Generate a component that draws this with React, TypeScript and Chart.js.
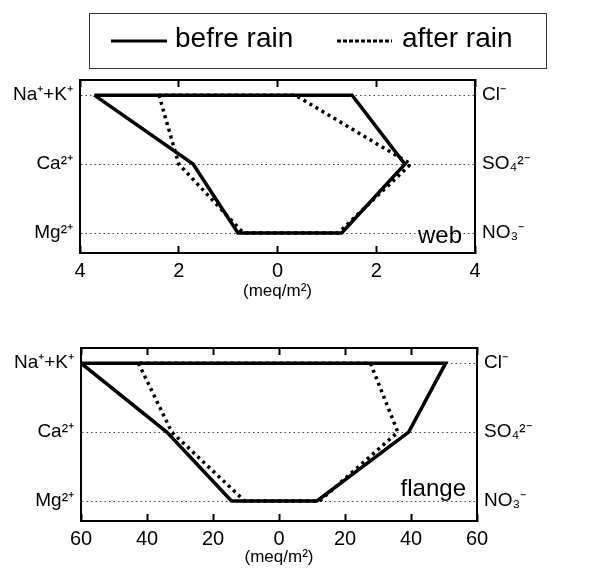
import React, { useEffect, useRef } from 'react';
import { Chart, registerables } from 'chart.js';
Chart.register(...registerables);

const cationLabels = ['Na⁺+K⁺', 'Ca²⁺', 'Mg²⁺'];
const anionLabels = ['Cl⁻', 'SO₄²⁻', 'NO₃⁻'];
const seriesNames = ['befre rain', 'after rain'];

const webBeforeCations = [3.71, 1.71, 0.8];
const webBeforeAnions = [1.51, 2.58, 1.3];
const webAfterCations = [2.4, 2.0, 0.69];
const webAfterAnions = [0.36, 2.7, 1.23];

const flangeBeforeCations = [60, 34, 14.4];
const flangeBeforeAnions = [50.5, 39.3, 11.5];
const flangeAfterCations = [42.6, 32.5, 10.4];
const flangeAfterAnions = [27.7, 36, 12.3];

const webRange = [-4, 4];
const webStep = 2;
const flangeRange = [-60, 60];
const flangeStep = 20;

const FONT = '"Liberation Sans", Arial, Helvetica, sans-serif';

function polygon(cat: number[], an: number[]) {
  const left = cat.map((v, i) => ({ x: -v, y: i }));
  const right = an.map((v, i) => ({ x: v, y: i })).reverse();
  return [...left, ...right, { x: -cat[0], y: 0 }];
}

const panelLabel = {
  id: 'panelLabel',
  afterDatasetsDraw(chart: any, _args: any, opts: any) {
    const { ctx, chartArea, scales } = chart;
    ctx.save();
    ctx.font = `${opts.size}px ${FONT}`;
    ctx.textAlign = 'right';
    ctx.textBaseline = 'alphabetic';
    ctx.fillStyle = '#000';
    const y = scales.y.getPixelForValue(2) + opts.dy;
    ctx.fillText(opts.text, chartArea.right - opts.dx, y);
    ctx.restore();
  },
};

function makeConfig(p: any) {
  const xTickCommon = {
    min: p.range[0],
    max: p.range[1],
  };
  return {
    type: 'scatter',
    data: {
      datasets: [
        {
          label: seriesNames[0],
          data: polygon(p.beforeC, p.beforeA),
          showLine: true,
          borderColor: '#000',
          borderWidth: 3.5,
          pointRadius: 0,
          fill: false,
          borderJoinStyle: 'miter',
        },
        {
          label: seriesNames[1],
          data: polygon(p.afterC, p.afterA),
          showLine: true,
          borderColor: '#000',
          borderWidth: 3.5,
          borderDash: [3, 4],
          pointRadius: 0,
          fill: false,
          borderJoinStyle: 'miter',
        },
      ],
    },
    options: {
      responsive: false,
      animation: false,
      devicePixelRatio: 1,
      layout: { padding: { top: p.padTop, left: 0, right: 0, bottom: 0 } },
      plugins: {
        legend: { display: false },
        tooltip: { enabled: false },
        panelLabel: { text: p.label, size: 24, dx: p.labelDx, dy: p.labelDy },
      },
      scales: {
        x: {
          type: 'linear',
          position: 'bottom',
          ...xTickCommon,
          afterFit: (s: any) => { s.height = p.height - p.chartBottom; },
          ticks: {
            stepSize: p.step,
            callback: (v: any) => String(Math.abs(v)),
            font: { family: FONT, size: 20 },
            color: '#000',
            padding: 13,
            maxRotation: 0,
          },
          grid: {
            drawOnChartArea: false,
            drawTicks: true,
            tickLength: -7,
            tickWidth: 2,
            tickColor: '#000',
            color: '#000',
          },
          border: { display: true, color: '#000', width: 2 },
          title: {
            display: true,
            text: '(meq/m²)',
            font: { family: FONT, size: 17 },
            color: '#000',
            padding: { top: 0, bottom: p.titlePad },
          },
        },
        xTop: {
          type: 'linear',
          position: 'top',
          ...xTickCommon,
          afterFit: (s: any) => { s.height = 0; },
          ticks: { display: false, stepSize: p.step },
          grid: {
            drawOnChartArea: false,
            drawTicks: true,
            tickLength: -7,
            tickWidth: 2,
            tickColor: '#000',
            color: '#000',
          },
          border: { display: true, color: '#000', width: 2 },
        },
        y: {
          type: 'linear',
          position: 'left',
          reverse: true,
          min: -0.22,
          max: 2.29,
          afterBuildTicks: (s: any) => { s.ticks = [0, 1, 2].map((v) => ({ value: v })); },
          afterFit: (s: any) => { s.width = p.leftW; },
          ticks: {
            callback: (_v: any, i: number) => cationLabels[i],
            font: { family: FONT, size: 19 },
            color: '#000',
            padding: 7,
          },
          grid: {
            drawTicks: false,
            color: '#444',
            lineWidth: 1,
          },
          border: { display: true, color: '#000', width: 2, dash: [1.5, 3] },
        },
        yRight: {
          type: 'linear',
          position: 'right',
          reverse: true,
          min: -0.22,
          max: 2.29,
          afterBuildTicks: (s: any) => { s.ticks = [0, 1, 2].map((v) => ({ value: v })); },
          afterFit: (s: any) => { s.width = p.rightW; },
          ticks: {
            callback: (_v: any, i: number) => anionLabels[i],
            font: { family: FONT, size: 19 },
            color: '#000',
            padding: 7,
          },
          grid: { display: false, drawTicks: false },
          border: { display: true, color: '#000', width: 2 },
        },
      },
    },
    plugins: [panelLabel],
  };
}

function Panel(props: any) {
  const ref = useRef<HTMLCanvasElement>(null);
  useEffect(() => {
    const chart = new Chart(ref.current as any, makeConfig(props.cfg) as any);
    return () => chart.destroy();
  }, []);
  return (
    <canvas
      ref={ref}
      width={604}
      height={props.cfg.height}
      style={{ position: 'absolute', left: 0, top: props.top, width: 604, height: props.cfg.height }}
    />
  );
}

export default function App() {
  const webCfg = {
    beforeC: webBeforeCations, beforeA: webBeforeAnions,
    afterC: webAfterCations, afterA: webAfterAnions,
    range: webRange, step: webStep,
    height: 305, padTop: 80, chartBottom: 253,
    leftW: 80, rightW: 129, titlePad: 3,
    label: 'web', labelDx: 13, labelDy: 10,
  };
  const flangeCfg = {
    beforeC: flangeBeforeCations, beforeA: flangeBeforeAnions,
    afterC: flangeAfterCations, afterA: flangeAfterAnions,
    range: flangeRange, step: flangeStep,
    height: 268, padTop: 48, chartBottom: 221,
    leftW: 81, rightW: 127, titlePad: 0,
    label: 'flange', labelDx: 11, labelDy: -5,
  };
  return (
    <div style={{ position: 'absolute', left: 0, top: 0, width: 604, height: 568, background: '#fff', overflow: 'hidden', fontFamily: FONT }}>
      <Panel cfg={webCfg} top={0} />
      <Panel cfg={flangeCfg} top={300} />
      <div style={{ position: 'absolute', left: 89, top: 13, width: 458, height: 56, border: '1.5px solid #333', boxSizing: 'border-box' }} />
      <svg width={604} height={80} style={{ position: 'absolute', left: 0, top: 0 }}>
        <line x1={111} y1={41} x2={167} y2={41} stroke="#000" strokeWidth={3} />
        <line x1={337} y1={41} x2={392} y2={41} stroke="#000" strokeWidth={3} strokeDasharray="4 2" />
      </svg>
      <span style={{ position: 'absolute', left: 175, top: 24, fontSize: 28, lineHeight: '28px', color: '#000', whiteSpace: 'nowrap' }}>{seriesNames[0]}</span>
      <span style={{ position: 'absolute', left: 402, top: 24, fontSize: 28, lineHeight: '28px', color: '#000', whiteSpace: 'nowrap' }}>{seriesNames[1]}</span>
    </div>
  );
}
